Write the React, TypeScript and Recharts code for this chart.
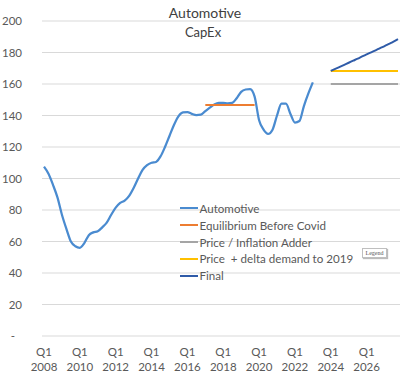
import React from "react";
import { LineChart, Line, XAxis, YAxis, CartesianGrid, Legend } from "recharts";

const years = [2008, 2009, 2010, 2011, 2012, 2013, 2014, 2015, 2016, 2017, 2018, 2019, 2020, 2021, 2022, 2023, 2024, 2025, 2026, 2027];
const quarterNames = ["Q1", "Q2", "Q3", "Q4"];
const yTicks = [0, 20, 40, 60, 80, 100, 120, 140, 160, 180, 200];

// Automotive from Q1 2008 to Q1 2023
const automotive = [
  107.5, 103, 96, 88, 77, 68, 60, 57, 56, 59,
  64, 65.8, 66.5, 69, 72, 77, 81.5, 84.5, 86, 89,
  94, 100, 105.5, 108.5, 110, 110.5, 114, 120, 127, 134,
  139.5, 142, 142.2, 141, 140.2, 140.5, 142.8, 145, 147, 148,
  148, 147.7, 148, 151, 155, 156.5, 156.8, 152, 137, 131,
  128.3, 131, 140, 147.5, 147.5, 141, 135.5, 136.5, 146, 154,
  161,
];
// Equilibrium Before Covid: Q1 2017 - Q4 2019
const equilibriumStart = 36;
const equilibrium = [146.7, 146.7, 146.7, 146.7, 146.7, 146.7, 146.7, 146.7, 146.7, 146.7, 146.7, 146.7];
// Forecast series: Q1 2024 - Q4 2027
const forecastStart = 64;
const inflation = [160, 160, 160, 160, 160, 160, 160, 160, 160, 160, 160, 160, 160, 160, 160, 160];
const demand = [168.3, 168.3, 168.3, 168.3, 168.3, 168.3, 168.3, 168.3, 168.3, 168.3, 168.3, 168.3, 168.3, 168.3, 168.3, 168.3];
const finalSeries = [168.3, 169.6, 170.9, 172.2, 173.5, 174.8, 176.1, 177.5, 178.8, 180.1, 181.4, 182.8, 184.1, 185.5, 186.9, 188.5];

const categories: string[] = [];
years.forEach((y) => quarterNames.forEach((q) => categories.push(q + " " + y)));

const pick = (arr: number[], start: number, i: number) =>
  i >= start && i < start + arr.length ? arr[i - start] : null;

const data = categories.map((c, i) => ({
  q: c,
  automotive: pick(automotive, 0, i),
  equilibrium: pick(equilibrium, equilibriumStart, i),
  inflation: pick(inflation, forecastStart, i),
  demand: pick(demand, forecastStart, i),
  final: pick(finalSeries, forecastStart, i),
}));

const FONT = "Lato, 'DejaVu Sans', sans-serif";
const TXT = "#595959";

const series = [
  { key: "automotive", name: "Automotive", color: "#4a8bd0", width: 2.25 },
  { key: "equilibrium", name: "Equilibrium Before Covid", color: "#ed7d31", width: 2 },
  { key: "inflation", name: "Price / Inflation Adder", color: "#a5a5a5", width: 2 },
  { key: "demand", name: "Price  + delta demand to 2019", color: "#ffc000", width: 2 },
  { key: "final", name: "Final", color: "#2f5ba8", width: 2 },
];

const YTick = (props: any) => {
  const { y, payload } = props;
  const v = payload.value;
  return (
    <text x={v === 0 ? 15 : 22} y={y + 4} textAnchor="end" fontSize={11.5} fill={TXT} fontFamily={FONT}>
      {v === 0 ? "-" : v}
    </text>
  );
};

const XTick = (props: any) => {
  const { x, payload } = props;
  const [q, yr] = String(payload.value).split(" ");
  return (
    <g>
      <text x={x} y={356} textAnchor="middle" fontSize={11.5} fill={TXT} fontFamily={FONT}>{q}</text>
      <text x={x} y={371} textAnchor="middle" fontSize={11.5} fill={TXT} fontFamily={FONT}>{yr}</text>
    </g>
  );
};

const renderLegend = () => (
  <div style={{ fontFamily: FONT, fontSize: 11.6, color: TXT }}>
    {series.map((s) => (
      <div key={s.key} style={{ display: "flex", alignItems: "center", height: 16.85, whiteSpace: "pre" }}>
        <span style={{ display: "inline-block", width: 18, height: 2, background: s.color, marginRight: 1.5 }} />
        <span>{s.name}</span>
      </div>
    ))}
  </div>
);

export default function App() {
  return (
    <div style={{ position: "absolute", left: 0, top: 0, width: 400, height: 379, background: "#fff" }}>
      <LineChart width={400} height={379} data={data} margin={{ top: 21, right: 0, bottom: 0, left: 0 }}>
        <text x={205} y={18} textAnchor="middle" fontSize={14} fill="#404040" fontFamily={FONT}>Automotive</text>
        <text x={203} y={37} textAnchor="middle" fontSize={13} fill="#404040" fontFamily={FONT}>CapEx</text>
        <CartesianGrid horizontal vertical={false} stroke="#d9d9d9" strokeWidth={1} />
        <XAxis
          dataKey="q"
          interval={7}
          height={43}
          axisLine={false}
          tickLine={false}
          tick={<XTick />}
          padding={{ left: 2, right: 2 }}
        />
        <YAxis
          width={42}
          domain={[0, 200]}
          ticks={yTicks}
          axisLine={false}
          tickLine={false}
          tick={<YTick />}
        />
        <Legend
          content={renderLegend}
          layout="vertical"
          align="center"
          verticalAlign="middle"
          wrapperStyle={{ left: 180, top: 200, width: 200, bottom: "auto" }}
        />
        {series.map((s) => (
          <Line
            key={s.key}
            dataKey={s.key}
            name={s.name}
            type="monotone"
            stroke={s.color}
            strokeWidth={s.width}
            dot={false}
            activeDot={false}
            isAnimationActive={false}
            connectNulls={false}
          />
        ))}
      </LineChart>
      <div
        style={{
          position: "absolute",
          left: 362,
          top: 248,
          width: 23,
          height: 8,
          border: "1px solid #bfbfbf",
          boxShadow: "1px 1px 1px #bbb",
          fontSize: 6,
          lineHeight: "8px",
          textAlign: "center",
          color: "#595959",
          fontFamily: "'Liberation Serif', serif",
          background: "#fff",
        }}
      >
        Legend
      </div>
    </div>
  );
}
